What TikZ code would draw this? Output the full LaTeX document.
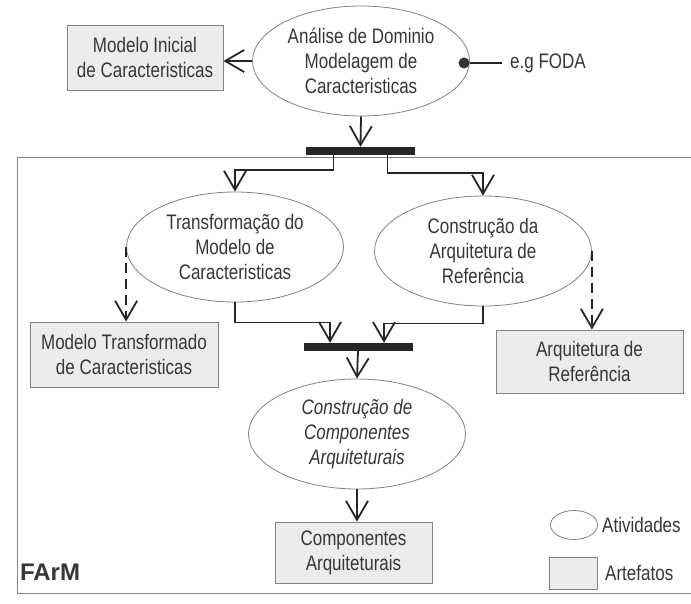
\documentclass[tikz,border=0pt]{standalone}
\usepackage{fontspec}
\setmainfont{Liberation Sans}[FakeStretch=0.81]
\newfontfamily\farmfont{Liberation Sans}
\usetikzlibrary{arrows.meta, positioning, shapes.geometric}
\definecolor{inkgray}{RGB}{55, 55, 55}
\definecolor{rimgray}{RGB}{130, 130, 130}
\definecolor{boxgray}{RGB}{236, 236, 236}
\tikzset{
  % Activity (ellipse) and artefact (box).
  activity/.style={
    ellipse, draw=rimgray, line width=0.8pt,
    fill=white,
    minimum width=217pt, minimum height=110pt,
    inner sep=0pt, align=center,
    font=\fontsize{21}{25}\selectfont,
    text=inkgray,
  },
  artefact/.style={
    rectangle, draw=rimgray, line width=0.8pt,
    fill=boxgray,
    inner sep=0pt, align=center,
    font=\fontsize{21}{25}\selectfont,
    text=inkgray,
  },
  % Synchronisation bar.
  syncbar/.style={
    rectangle, fill=black!85, draw=none,
    minimum width=109pt, minimum height=8pt, inner sep=0pt,
  },
  % Connectors.
  flow/.style={
    -{Straight Barb[length=19pt, width=22pt]},
    line width=1.8pt, draw=black!85,
  },
  dflow/.style={flow, dash pattern=on 10pt off 6pt},
  legend-text/.style={font=\fontsize{21}{25}\selectfont, text=inkgray, anchor=west, inner sep=0pt},
}
\begin{document}
\begin{tikzpicture}[x=1pt, y=-1pt]
  \useasboundingbox (0,0) rectangle (691,604);

  % Outer FArM frame (open to the right edge).
  \draw[rimgray, line width=0.9pt] (691,157) -- (17,157) -- (17,593) -- (691,593);
  \node[font=\farmfont\fontsize{24}{28}\selectfont\bfseries, text=inkgray] (farm) at (50,572) {FArM};

  % Domain analysis.
  \node[activity] (dom) at (361,61) {An\'alise de Dominio\\Modelagem de\\Caracteristicas};
  \node[artefact, minimum width=156pt, minimum height=65pt] (ini) at (145,57.5) {Modelo Inicial\\de Caracteristicas};
  \node[circle, fill=black!80, inner sep=0pt, minimum size=11pt] (dot) at (464,63) {};
  \coordinate (fodaend) at (502,63);
  \node[legend-text] (foda) at (510,63) {e.g FODA};
  \draw[black!85, line width=1.2pt] (dot) -- (fodaend);
  \draw[flow] (dom.west) -- (dom.west -| ini.east);

  % Fork.
  \node[syncbar] (fork) at (360.5,151) {};
  \draw[flow] (dom.south) -- (fork.north);

  % Parallel activities.
  \node[activity] (trans) at (235,247) {Transforma\c{c}\~ao do\\Modelo de\\Caracteristicas};
  \node[activity] (ref) at (483,251) {Constru\c{c}\~ao da\\Arquitetura de\\Refer\^encia};
  \draw[flow] ([xshift=-27pt]fork.south) -- ++(0,15) -| (trans.north);
  \draw[flow] ([xshift=27pt]fork.south) -- ++(0,18) -| (ref.north);

  % Their artefacts.
  \node[artefact, minimum width=188pt, minimum height=65pt] (mtr) at (124,354.5) {Modelo Transformado\\de Caracteristicas};
  \node[artefact, minimum width=187pt, minimum height=63pt] (arq) at (589.5,361.5) {Arquitetura de\\Refer\^encia};
  \draw[dflow] (trans.west) -- (trans.west |- mtr.north);
  \draw[dflow] (ref.east) -- (ref.east |- arq.north);

  % Join.
  \node[syncbar] (join) at (358,347) {};
  \draw[flow] (trans.south) -- ++(0,20) -| ([xshift=-28pt]join.north);
  \draw[flow] (ref.south) -- ++(0,17) -| ([xshift=26pt]join.north);

  % Components.
  \node[activity, font=\fontsize{21}{25}\selectfont\itshape] (comp) at (357,434) {Constru\c{c}\~ao de\\Componentes\\Arquiteturais};
  \draw[flow] (join.south) -- (comp.north);
  \node[artefact, minimum width=157pt, minimum height=61pt] (cart) at (353.5,552.5) {Componentes\\Arquiteturais};
  \draw[flow] (comp.south) -- (comp.south |- cart.north);

  % Legend.
  \node[activity, minimum width=47pt, minimum height=29pt] (lega) at (574,525) {};
  \node[legend-text] (legat) at (602,525) {Atividades};
  \node[artefact, minimum width=48pt, minimum height=32pt] (legr) at (573,573) {};
  \node[legend-text] (legrt) at (605,573) {Artefatos};

\end{tikzpicture}
\end{document}
